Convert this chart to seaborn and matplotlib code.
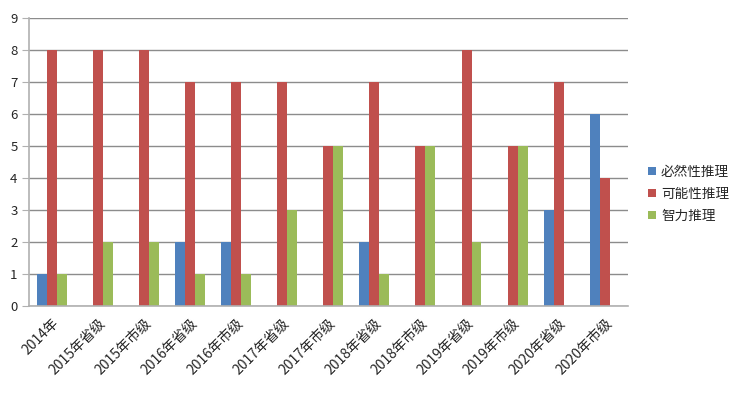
import matplotlib
matplotlib.use("Agg")
import matplotlib.pyplot as plt
import seaborn as sns
import pandas as pd

categories = ["2014年", "2015年省级", "2015年市级", "2016年省级", "2016年市级",
              "2017年省级", "2017年市级", "2018年省级", "2018年市级", "2019年省级",
              "2019年市级", "2020年省级", "2020年市级"]
series_names = ["必然性推理", "可能性推理", "智力推理"]
biran = [1, 0, 0, 2, 2, 0, 0, 2, 0, 0, 0, 3, 6]
keneng = [8, 8, 8, 7, 7, 7, 5, 7, 5, 8, 5, 7, 4]
zhili = [1, 2, 2, 1, 1, 3, 5, 1, 5, 2, 5, 0, 0]
colors = ["#4F81BD", "#C0504D", "#9BBB59"]

rows = []
for name, vals in zip(series_names, [biran, keneng, zhili]):
    for c, v in zip(categories, vals):
        rows.append({"cat": c, "series": name, "value": v})
df = pd.DataFrame(rows)

sns.set_style("white")
plt.rcParams["font.family"] = ["Noto Sans CJK SC", "DejaVu Sans"]

fig = plt.figure(figsize=(7.36, 3.93), dpi=100)
ax = fig.add_axes([0.039, 0.221, 0.814, 0.733])
sns.barplot(data=df, x="cat", y="value", hue="series", order=categories,
            hue_order=series_names, palette=colors, width=0.65, gap=0,
            saturation=1, ax=ax, linewidth=0)

ax.set_ylim(0, 9)
ax.set_yticks(range(0, 10))
ax.set_xlim(-0.5, len(categories) - 0.5)
ax.yaxis.grid(True, color="#8c8c8c", linewidth=1)
ax.set_axisbelow(True)
ax.set_xlabel("")
ax.set_ylabel("")
for s in ["top", "right"]:
    ax.spines[s].set_visible(False)
for s in ["left", "bottom"]:
    ax.spines[s].set_color("#b0b0b0")
    ax.spines[s].set_linewidth(1.2)

ax.set_xticks(range(len(categories)))
ax.set_xticklabels(categories, rotation=45, ha="right", rotation_mode="anchor",
                   fontsize=10)
ax.tick_params(axis="x", length=0, pad=7)
ax.set_xticks([i - 0.5 for i in range(len(categories) + 1)], minor=True)
ax.tick_params(axis="x", which="minor", length=6, color="#b0b0b0", width=1)
ax.tick_params(axis="y", length=5, color="#b0b0b0", labelsize=9.5, pad=3)
ax.tick_params(axis="y", direction="out", left=True)

leg = ax.legend(loc="center left", bbox_to_anchor=(1.018, 0.39), frameon=False,
                fontsize=9.8, handlelength=0.6, handleheight=0.6,
                handletextpad=0.35, labelspacing=0.6, borderpad=0.2)

fig.savefig("out.png", dpi=100)
